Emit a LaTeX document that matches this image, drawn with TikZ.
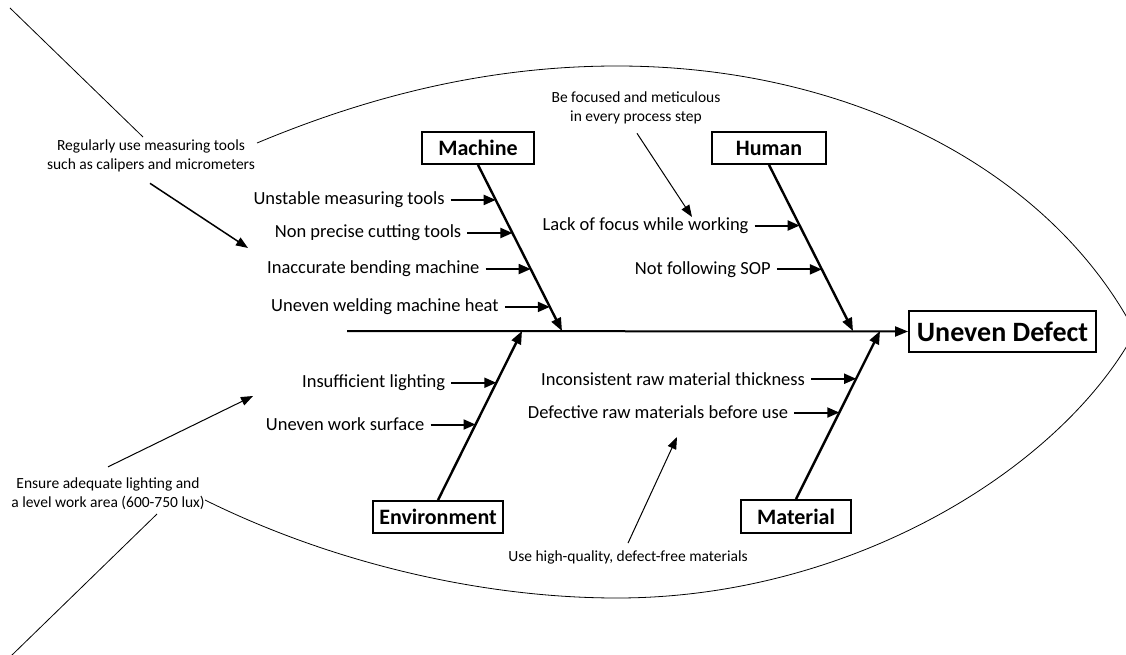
\documentclass[tikz,border=0pt]{standalone}
\usepackage{fontspec}
\setmainfont{Carlito}
\usetikzlibrary{arrows.meta,positioning,calc}
\tikzset{
  cause/.style={font=\fontsize{18.5}{22}\selectfont, inner xsep=6pt, inner ysep=2pt, anchor=east},
  catbox/.style={draw, line width=1.8pt, font=\bfseries\fontsize{22}{25}\selectfont, inner sep=0pt, minimum height=32pt},
  effbox/.style={draw, line width=1.8pt, font=\bfseries\fontsize{28}{31}\selectfont, inner sep=0pt, minimum height=41pt, minimum width=187pt},
  note/.style={font=\fontsize{15.5}{19}\selectfont, align=center, inner sep=1pt},
  bone/.style={line width=2.4pt, -{Triangle[length=13pt,width=10pt]}},
  carrow/.style={line width=2pt, -{Triangle[length=12pt,width=10pt]}},
  narrow/.style={line width=1pt, -{Triangle[length=12pt,width=9pt]}},
  outline/.style={line width=0.8pt}
}
\begin{document}
\begin{tikzpicture}[x=1pt,y=-1pt]
\clip (0,0) rectangle (1126,655);
\fill[white] (0,0) rectangle (1126,655);

% fish outline
\draw[outline] (10,8) -- (143,137);
\draw[outline] (257,143) .. controls (360,100) and (480,66) .. (617,66)
  .. controls (850,66) and (1050,170) .. (1135,332);
\draw[outline] (205,500) .. controls (330,562) and (480,598) .. (617,598)
  .. controls (850,598) and (1060,470) .. (1135,332);
\draw[outline] (157,514) -- (11,656);

% effect and spine
\node[effbox] (eff) at (1002.5,331.5) {Uneven Defect};
\coordinate (tail) at (347,331);
\draw[line width=2pt, -{Triangle[length=13pt,width=10pt]}] (tail) -- (eff.west);

% category boxes
\node[catbox, minimum width=112pt] (mach) at (478,148) {Machine};
\node[catbox, minimum width=114pt] (hum) at (769,148) {Human};
\node[catbox, minimum width=130pt] (env) at (438,517) {Environment};
\node[catbox, minimum width=110pt, minimum height=33pt] (mat) at (796,516.5) {Material};

\coordinate (mEnd) at (562,331);
\coordinate (hEnd) at (853,331);
\coordinate (eEnd) at (522,331);
\coordinate (tEnd) at (880,331);

\draw[bone] (mach.south) -- (mEnd);
\draw[bone] (hum.south) -- (hEnd);
\draw[bone] (env.north) -- (eEnd);
\draw[bone] (mat.north) -- (tEnd);

% machine causes
\coordinate (m1) at ($(mach.south)!0.211!(mEnd)$);
\coordinate (m2) at ($(mach.south)!0.410!(mEnd)$);
\coordinate (m3) at ($(mach.south)!0.627!(mEnd)$);
\coordinate (m4) at ($(mach.south)!0.855!(mEnd)$);
\node[cause] (cm1) at ($(m1)+(-45,0)$) {Unstable measuring tools};
\node[cause] (cm2) at ($(m2)+(-45,0)$) {Non precise cutting tools};
\node[cause] (cm3) at ($(m3)+(-45,0)$) {Inaccurate bending machine};
\node[cause] (cm4) at ($(m4)+(-45,0)$) {Uneven welding machine heat};
\foreach \i in {1,2,3,4} \draw[carrow] (cm\i.east) -- (m\i);

% human causes
\coordinate (h1) at ($(hum.south)!0.365!(hEnd)$);
\coordinate (h2) at ($(hum.south)!0.629!(hEnd)$);
\node[cause] (ch1) at ($(h1)+(-45,0)$) {Lack of focus while working};
\node[cause] (ch2) at ($(h2)+(-45,0)$) {Not following SOP};
\foreach \i in {1,2} \draw[carrow] (ch\i.east) -- (h\i);

% environment causes
\coordinate (e1) at ($(env.north)!0.694!(eEnd)$);
\coordinate (e2) at ($(env.north)!0.447!(eEnd)$);
\node[cause] (ce1) at ($(e1)+(-45,0)$) {Insufficient lighting};
\node[cause] (ce2) at ($(e2)+(-45,0)$) {Uneven work surface};
\foreach \i in {1,2} \draw[carrow] (ce\i.east) -- (e\i);

% material causes
\coordinate (t1) at ($(mat.north)!0.716!(tEnd)$);
\coordinate (t2) at ($(mat.north)!0.515!(tEnd)$);
\node[cause] (ct1) at ($(t1)+(-45,0)$) {Inconsistent raw material thickness};
\node[cause] (ct2) at ($(t2)+(-45,0)$) {Defective raw materials before use};
\foreach \i in {1,2} \draw[carrow] (ct\i.east) -- (t\i);

% notes
\node[note] (nHum) at (636,108) {Be focused and meticulous\\in every process step};
\coordinate (nHumT) at (692,217);
\draw[narrow] ($(nHum.south)+(1,8)$) -- (nHumT);

\node[note] (nMach) at (151,156) {Regularly use measuring tools\\such as calipers and micrometers};
\coordinate (nMachT) at (248,248);
\draw[line width=1.5pt, -{Triangle[length=12pt,width=9pt]}] ($(nMach.south)+(-1,10)$) -- (nMachT);

\node[note] (nEnv) at (108,494) {Ensure adequate lighting and\\a level work area (600-750 lux)};
\coordinate (nEnvT) at (253,396);
\draw[narrow] ($(nEnv.north)+(0,-10)$) -- (nEnvT);

\node[note] (nMat) at (628,557) {Use high-quality, defect-free materials};
\coordinate (nMatT) at (677,437);
\draw[narrow] ($(nMat.north)+(0,-6)$) -- (nMatT);
\end{tikzpicture}
\end{document}
